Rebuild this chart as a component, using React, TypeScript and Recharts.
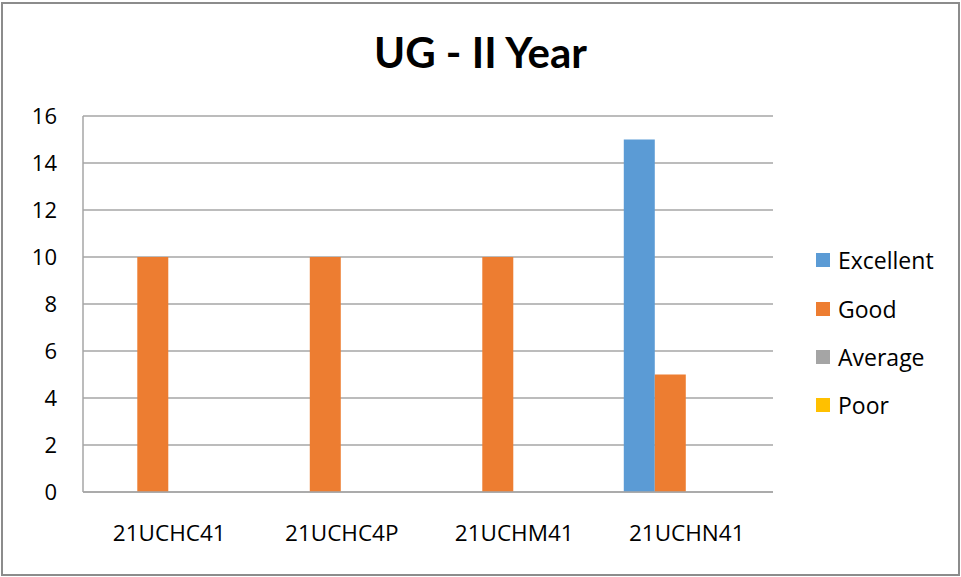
import { BarChart, Bar, XAxis, YAxis, CartesianGrid } from 'recharts'

const categories = ['21UCHC41', '21UCHC4P', '21UCHM41', '21UCHN41']
const excellent = [0, 0, 0, 15]
const good = [10, 10, 10, 5]
const average = [0, 0, 0, 0]
const poor = [0, 0, 0, 0]
const yTicks = [0, 2, 4, 6, 8, 10, 12, 14, 16]

const series = [
  { key: 'Excellent', values: excellent, color: '#5B9BD5' },
  { key: 'Good', values: good, color: '#ED7D31' },
  { key: 'Average', values: average, color: '#A5A5A5' },
  { key: 'Poor', values: poor, color: '#FFC000' },
]

const data = categories.map((name, i) => {
  const row: Record<string, string | number> = { name }
  series.forEach(s => { row[s.key] = s.values[i] })
  return row
})

const font = '"Open Sans", Lato, sans-serif'

export default function App() {
  return (
    <div style={{ position: 'absolute', left: 0, top: 0, width: 961, height: 577, background: '#fff', fontFamily: font }}>
      <div style={{ position: 'absolute', left: 1, top: 2, width: 959, height: 574, border: '2px solid #8c8c8c', boxSizing: 'border-box' }} />
      <div style={{ position: 'absolute', left: 0, top: 32, width: 961, textAlign: 'center', fontSize: 42, fontWeight: 700, color: '#000', lineHeight: '40px', fontFamily: 'Lato, sans-serif' }}>
        UG - II Year
      </div>
      <BarChart
        width={961}
        height={577}
        data={data}
        margin={{ top: 116, right: 188, bottom: 55, left: 0 }}
        barCategoryGap="13.5%"
        barGap={0}
        style={{ position: 'absolute', left: 0, top: 0 }}
      >
        <CartesianGrid vertical={false} stroke="#a6a6a6" strokeWidth={1.5} />
        <XAxis
          dataKey="name"
          tickLine={false}
          tickSize={0}
          tickMargin={33}
          stroke="#a6a6a6"
          strokeWidth={1.5}
          tick={{ fill: '#000', fontSize: 22.5, fontFamily: font }}
        />
        <YAxis
          width={83}
          domain={[0, 16]}
          ticks={yTicks}
          interval={0}
          tickLine={false}
          tickSize={0}
          tickMargin={26}
          stroke="#a6a6a6"
          strokeWidth={1.5}
          tick={{ fill: '#000', fontSize: 22, fontFamily: font }}
        />
        {series.map(s => (
          <Bar key={s.key} dataKey={s.key} fill={s.color} isAnimationActive={false} />
        ))}
      </BarChart>
      <div style={{ position: 'absolute', left: 816, top: 236 }}>
        {series.map(s => (
          <div key={s.key} style={{ display: 'flex', alignItems: 'center', height: 48.4, fontSize: 23, color: '#000' }}>
            <span style={{ display: 'inline-block', width: 14, height: 14, background: s.color, marginRight: 8 }} />
            {s.key}
          </div>
        ))}
      </div>
    </div>
  )
}
